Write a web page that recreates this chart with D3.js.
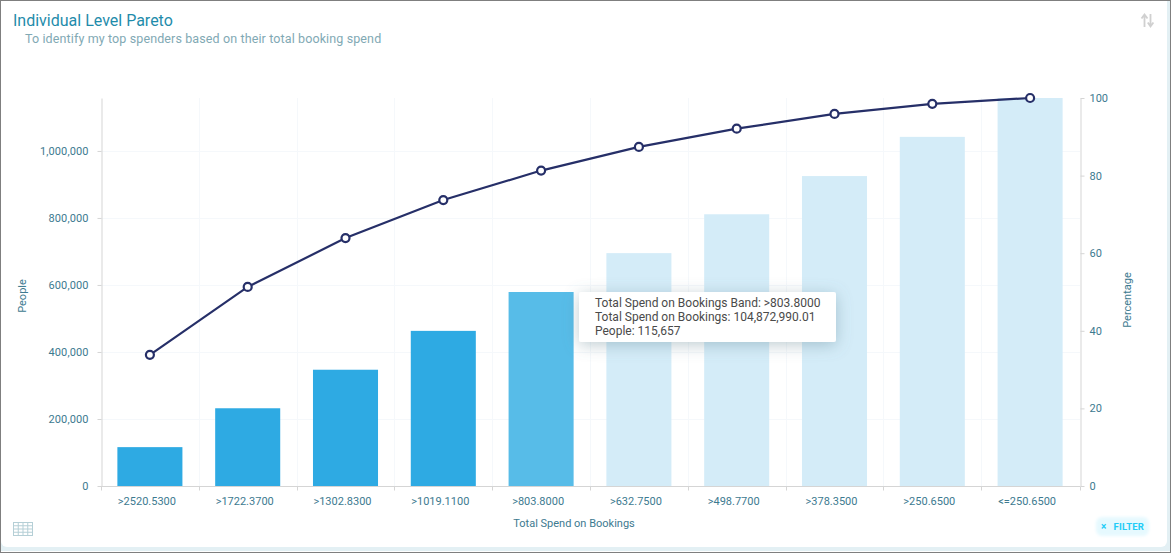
<!DOCTYPE html>
<html>
<head>
<meta charset="utf-8">
<script src="https://cdn.jsdelivr.net/npm/d3@7"></script>
<style>
  html, body { margin: 0; padding: 0; background: #fff; overflow: hidden; }
  svg { display: block; font-family: Roboto, sans-serif; }
</style>
</head>
<body>
<svg id="chart" width="1171" height="553"></svg>
<script>
  // values
  const bands = ['>2520.5300', '>1722.3700', '>1302.8300', '>1019.1100', '>803.8000',
                 '>632.7500', '>498.7700', '>378.3500', '>250.6500', '<=250.6500'];
  const people = [116000, 232000, 347000, 463000, 579000, 695000, 811000, 925000, 1042000, 1158000];
  const percentage = [33.8, 51.3, 63.9, 73.7, 81.3, 87.4, 92.1, 95.9, 98.5, 100];
  const peopleTicks = [0, 200000, 400000, 600000, 800000, 1000000];
  const percentTicks = [0, 20, 40, 60, 80, 100];
  const tooltipLines = ['Total Spend on Bookings Band: >803.8000',
                        'Total Spend on Bookings: 104,872,990.01',
                        'People: 115,657'];
  const hoveredBand = '>803.8000';
  const textColor = '#3d7a90';

  const svg = d3.select('#chart');
  const defs = svg.append('defs');

  // soft shadow for the tooltip
  const shadow = defs.append('filter').attr('id', 'tip-shadow')
    .attr('x', '-15%').attr('y', '-50%').attr('width', '130%').attr('height', '210%');
  shadow.append('feDropShadow')
    .attr('dx', 0).attr('dy', 3).attr('stdDeviation', 8)
    .attr('flood-color', '#5c7f8c').attr('flood-opacity', 0.4);

  // glow round the filter button
  defs.append('filter').attr('id', 'btn-glow')
    .attr('x', '-20%').attr('y', '-40%').attr('width', '140%').attr('height', '180%')
    .append('feGaussianBlur').attr('stdDeviation', 1.5);

  //
  // Card frame
  //
  svg.append('rect').attr('width', 1171).attr('height', 553).attr('fill', '#7f7f7f');
  svg.append('rect').attr('x', 1).attr('y', 1).attr('width', 1169).attr('height', 551).attr('fill', '#ffffff');
  svg.append('rect').attr('x', 1).attr('y', -10).attr('width', 1169).attr('height', 561)
    .attr('fill', '#e3f0f4');
  svg.append('rect').attr('x', 1).attr('y', -10).attr('width', 1166).attr('height', 557)
    .attr('rx', 6).attr('fill', '#ffffff');
  svg.append('rect').attr('width', 1171).attr('height', 1).attr('fill', '#7f7f7f');

  svg.append('text').attr('x', 13).attr('y', 26)
    .attr('font-size', 16).attr('fill', '#1f8cab')
    .text('Individual Level Pareto');
  svg.append('text').attr('x', 25).attr('y', 43)
    .attr('font-size', 12.5).attr('letter-spacing', 0.12).attr('fill', '#81a9b4')
    .text('To identify my top spenders based on their total booking spend');

  //
  // Scales
  //
  const x = d3.scaleBand().domain(bands).range([101, 1079]).paddingInner(0.335).paddingOuter(0.1675);
  const yLeft = d3.scaleLinear().domain([0, 1158000]).range([486, 98]);
  const yRight = d3.scaleLinear().domain([0, 100]).range([486, 98]);

  //
  // Grid
  //
  const grid = svg.append('g').attr('stroke', '#f5f8fb').attr('stroke-width', 1);
  grid.selectAll('.grid-x').data(bands.slice(1)).enter().append('line')
    .attr('class', 'grid-x')
    .attr('x1', (d) => Math.round(x(d) - x.step() * 0.1675) + 0.5)
    .attr('x2', (d) => Math.round(x(d) - x.step() * 0.1675) + 0.5)
    .attr('y1', 98).attr('y2', 486);
  grid.selectAll('.grid-y').data(peopleTicks.slice(1)).enter().append('line')
    .attr('class', 'grid-y')
    .attr('x1', 101).attr('x2', 1080)
    .attr('y1', (d) => Math.round(yLeft(d)) + 0.5)
    .attr('y2', (d) => Math.round(yLeft(d)) + 0.5);

  //
  // Bars
  //
  const hoverIndex = bands.indexOf(hoveredBand);
  svg.append('g').selectAll('rect').data(bands).enter().append('rect')
    .attr('x', (d) => x(d))
    .attr('width', x.bandwidth())
    .attr('y', (d, i) => yLeft(people[i]))
    .attr('height', (d, i) => 486 - yLeft(people[i]))
    .attr('fill', (d, i) => i < hoverIndex ? '#2eaae3' : (i === hoverIndex ? '#57bce8' : '#d4ecf8'));

  //
  // Axes
  //
  const styleAxis = (g) => {
    g.selectAll('.domain').attr('stroke', '#d5d5d5');
    g.selectAll('.tick line').attr('stroke', '#d5d5d5');
    g.selectAll('.tick text').attr('fill', textColor).attr('font-size', 11)
      .attr('font-family', 'Roboto, sans-serif');
  };

  svg.append('g').attr('transform', 'translate(101.5,0)')
    .call(d3.axisLeft(yLeft).tickValues(peopleTicks).tickFormat(d3.format(',')).tickSize(4).tickSizeOuter(0).tickPadding(9))
    .call(styleAxis)
    .call((g) => g.selectAll('.tick text').attr('letter-spacing', 0.1));
  svg.append('g').attr('transform', 'translate(1080.5,0)')
    .call(d3.axisRight(yRight).tickValues(percentTicks).tickSize(4).tickSizeOuter(0).tickPadding(5))
    .call(styleAxis);

  // ticks on the x axis sit between the bands
  const xAxis = svg.append('g').attr('transform', 'translate(0,486.5)')
    .call(d3.axisBottom(x).tickSize(0).tickPadding(11))
    .call(styleAxis);
  xAxis.select('.domain').attr('d', 'M101,0H1080');
  xAxis.selectAll('.tick line').remove();
  xAxis.selectAll('.tick text').attr('dx', -3);
  xAxis.selectAll('.sep').data(bands.concat([null])).enter().append('line')
    .attr('stroke', '#d5d5d5')
    .attr('x1', (d) => Math.round(d ? x(d) - x.step() * 0.1675 : 1080) + 0.5)
    .attr('x2', (d) => Math.round(d ? x(d) - x.step() * 0.1675 : 1080) + 0.5)
    .attr('y1', 0).attr('y2', 4);

  svg.append('text').attr('x', 574).attr('y', 527).attr('text-anchor', 'middle')
    .attr('font-size', 11).attr('fill', textColor).text('Total Spend on Bookings');
  svg.append('text').attr('transform', 'translate(26,296) rotate(-90)').attr('text-anchor', 'middle')
    .attr('font-size', 11).attr('fill', textColor).text('People');
  svg.append('text').attr('transform', 'translate(1131,300) rotate(-90)').attr('text-anchor', 'middle')
    .attr('font-size', 11).attr('fill', textColor).text('Percentage');

  //
  // Pareto line
  //
  const line = d3.line()
    .x((d, i) => x(bands[i]) + x.bandwidth() / 2)
    .y((d) => yRight(d));
  svg.append('path').datum(percentage)
    .attr('d', line).attr('fill', 'none')
    .attr('stroke', '#262f68').attr('stroke-width', 2.2);
  svg.append('g').selectAll('circle').data(percentage).enter().append('circle')
    .attr('cx', (d, i) => x(bands[i]) + x.bandwidth() / 2)
    .attr('cy', (d) => yRight(d))
    .attr('r', 4).attr('fill', '#ffffff')
    .attr('stroke', '#262f68').attr('stroke-width', 2.2);

  //
  // Tooltip
  //
  const tip = svg.append('g').attr('transform', 'translate(579,292)');
  tip.append('rect').attr('width', 257).attr('height', 50).attr('rx', 2)
    .attr('fill', '#ffffff').attr('filter', 'url(#tip-shadow)');
  tip.selectAll('text').data(tooltipLines).enter().append('text')
    .attr('x', 16).attr('y', (d, i) => 15 + i * 14)
    .attr('font-size', 12).attr('fill', '#4a4a4a').text((d) => d);

  //
  // Icons: sort arrows, table, filter button
  //
  const sortIcon = svg.append('g').attr('transform', 'translate(1141,13)')
    .attr('fill', 'none').attr('stroke', '#d0d0d0').attr('stroke-width', 1.8);
  sortIcon.append('path').attr('d', 'M3.5,14V2M0.5,5.5L3.5,1.5L6.5,5.5');
  sortIcon.append('path').attr('d', 'M9.5,1V13M6.8,9.5L9.5,13.5L12.4,9.5');

  const tableIcon = svg.append('g').attr('transform', 'translate(13.5,522.5)')
    .attr('fill', 'none').attr('stroke', '#b5cfd6').attr('stroke-width', 1);
  tableIcon.append('rect').attr('width', 19).attr('height', 13);
  d3.range(1, 4).forEach((i) => {
    tableIcon.append('line').attr('x1', 0).attr('x2', 19).attr('y1', i * 3.25).attr('y2', i * 3.25);
  });
  d3.range(1, 4).forEach((i) => {
    tableIcon.append('line').attr('x1', i * 4.75).attr('x2', i * 4.75).attr('y1', 0).attr('y2', 13);
  });

  const filterBtn = svg.append('g').attr('transform', 'translate(1095,516)');
  filterBtn.append('rect').attr('x', 1).attr('y', 1).attr('width', 53).attr('height', 19).attr('rx', 6)
    .attr('fill', '#e6f9fe').attr('filter', 'url(#btn-glow)');
  filterBtn.append('text').attr('x', 6).attr('y', 14).attr('font-size', 10)
    .attr('font-weight', 700).attr('fill', '#22ccf7').text('×');
  filterBtn.append('text').attr('x', 18.5).attr('y', 14).attr('font-size', 9.5)
    .attr('font-weight', 700).attr('letter-spacing', 0.2).attr('fill', '#22ccf7').text('FILTER');
</script>
</body>
</html>
